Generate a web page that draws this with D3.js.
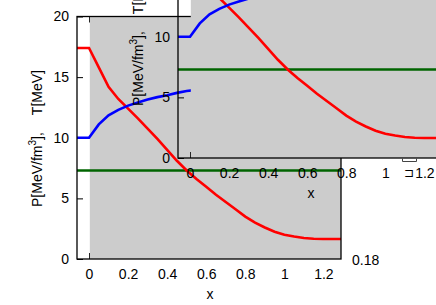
<!DOCTYPE html>
<html>
<head>
<meta charset="utf-8">
<script src="https://cdn.jsdelivr.net/npm/d3@7"></script>
<style>
  body { margin: 0; background: #fff; }
  svg { display: block; }
  text { font-family: "Liberation Sans", Arial, sans-serif; font-size: 14px; fill: #000; }
</style>
</head>
<body>
<div id="chart"></div>
<script>
const xValues = [-0.0615, 0, 0.05, 0.1, 0.15, 0.2, 0.25, 0.3, 0.35, 0.4, 0.45, 0.5, 0.55, 0.6,
  0.65, 0.7, 0.75, 0.8, 0.85, 0.9, 0.95, 1.0, 1.05, 1.1, 1.15, 1.2, 1.25, 1.29];
const pressure = [17.4, 17.4, 15.8, 14.2, 13.2, 12.4, 11.6, 10.75, 9.9, 9.0, 8.1, 7.3, 6.6, 5.95,
  5.3, 4.7, 4.1, 3.5, 3.0, 2.6, 2.25, 2.0, 1.85, 1.73, 1.67, 1.65, 1.65, 1.65];
const temperature = [10, 10, 11.1, 11.85, 12.3, 12.65, 12.9, 13.15, 13.35, 13.5, 13.7, 13.85, 13.95, 14.05,
  14.15, 14.25, 14.3, 14.4, 14.45, 14.5, 14.55, 14.6, 14.65, 14.7, 14.72, 14.75, 14.77, 14.8];
const flatX = [-0.0615, 1.29];
const flatLevel = [7.3, 7.3];

const xTicks = [0, 0.2, 0.4, 0.6, 0.8, 1, 1.2];
const yTicks = [0, 5, 10, 15, 20];
const sideNote = '0.18';

let margin = { top: 16.5, left: 77, right: 95, bottom: 46 },
    width = 436 - margin.left - margin.right,
    height = 305 - margin.top - margin.bottom;

const svg = d3.select('#chart')
  .append('svg')
  .attr('width', 436)
  .attr('height', 305);

const x = d3.scaleLinear().domain([flatX[0], flatX[1]]).range([0, width]);
const y = d3.scaleLinear().domain([0, 20]).range([height, 0]);

const line = d3.line()
  .x(d => x(d[0]))
  .y(d => y(d[1]));

const redData = xValues.map((v, i) => [v, pressure[i]]);
const blueData = xValues.map((v, i) => [v, temperature[i]]);
const greenData = flatX.map((v, i) => [v, flatLevel[i]]);

function drawPanel(dx, dy) {
  const g = svg.append('g')
    .attr('transform', 'translate(' + (margin.left + dx) + ',' + (margin.top + dy) + ')');

  // ticks go in first, the grey field hides most of them
  g.append('g')
    .call(d3.axisLeft(y).tickValues(yTicks).tickSize(-6).tickPadding(8).tickFormat(d => d));
  g.append('g')
    .attr('transform', 'translate(0,' + height + ')')
    .call(d3.axisBottom(x).tickValues(xTicks).tickSize(-6).tickPadding(10).tickFormat(d => d));
  g.append('g')
    .call(d3.axisTop(x).tickValues(xTicks).tickSize(-6).tickFormat(''));
  g.selectAll('.domain').remove();

  g.append('rect')
    .attr('x', x(0) + 0.8)
    .attr('y', 0)
    .attr('width', width - x(0) - 0.8)
    .attr('height', height)
    .attr('fill', '#cccccc');

  g.append('path')
    .attr('d', line(greenData))
    .attr('fill', 'none')
    .attr('stroke', '#006400')
    .attr('stroke-width', 2.6);
  g.append('path')
    .attr('d', line(redData))
    .attr('fill', 'none')
    .attr('stroke', '#ff0000')
    .attr('stroke-width', 2.6);
  g.append('path')
    .attr('d', line(blueData))
    .attr('fill', 'none')
    .attr('stroke', '#0000ff')
    .attr('stroke-width', 2.6);

  g.append('rect')
    .attr('width', width)
    .attr('height', height)
    .attr('fill', 'none')
    .attr('stroke', '#000')
    .attr('stroke-width', 1.3);

  const pLabel = g.append('text')
    .attr('transform', 'rotate(-90)')
    .attr('x', -190.5)
    .attr('y', -35.5)
    .attr('text-anchor', 'start');
  pLabel.append('tspan').text('P[MeV/fm');
  pLabel.append('tspan').attr('dy', -6).style('font-size', '10px').text('3');
  pLabel.append('tspan').attr('dy', 6).text('],');

  g.append('text')
    .attr('transform', 'rotate(-90)')
    .attr('x', -53.5)
    .attr('y', -35.5)
    .attr('text-anchor', 'end')
    .text('T[MeV]');

  g.append('text')
    .attr('x', 133)
    .attr('y', height + 39.7)
    .attr('text-anchor', 'middle')
    .text('x');

  g.append('text')
    .attr('x', width + 11)
    .attr('y', height + 6)
    .text(sideNote);

  return g;
}

drawPanel(0, 0);
drawPanel(101, -101);

// stray mark under the inset axis
svg.append('path')
  .attr('d', 'M402.5,158.5v3h14v-3')
  .attr('fill', 'none')
  .attr('stroke', '#444')
  .attr('stroke-width', 1);
svg.append('text')
  .attr('x', 404)
  .attr('y', 177)
  .style('font-size', '12px')
  .text('⊐');
</script>
</body>
</html>
